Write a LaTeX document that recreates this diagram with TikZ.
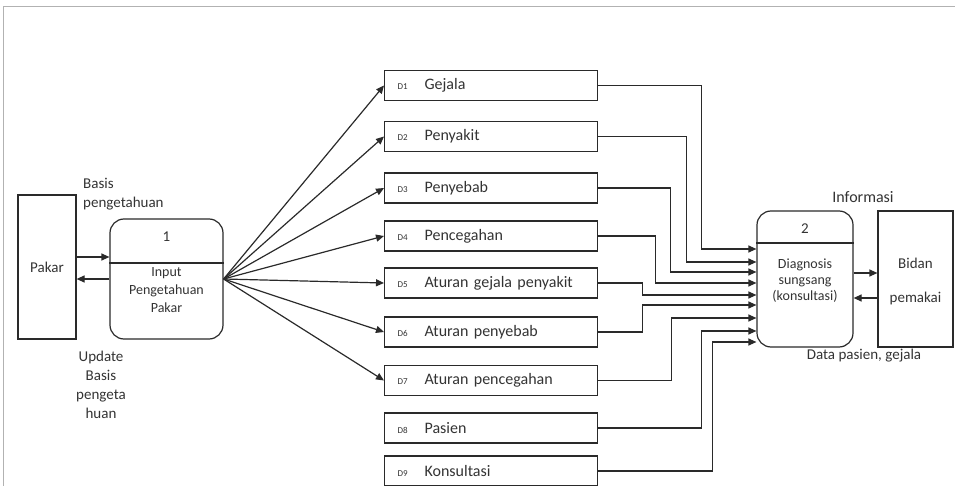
\documentclass[tikz,border=0pt]{standalone}
\usepackage{fontspec}
\setmainfont{Carlito}
\usepackage{xcolor}
\usetikzlibrary{arrows.meta,positioning,calc}
\definecolor{ink}{HTML}{333333}
\definecolor{edge}{HTML}{2A2A2A}
\newcommand{\dnum}[1]{\makebox[27pt][l]{\fontsize{9}{9}\selectfont #1}}

\begin{document}
\begin{tikzpicture}[x=1pt, y=-1pt,
  store/.style={draw=edge, line width=1.2pt, minimum width=213pt, minimum height=30pt, inner xsep=13pt, text width=187pt, anchor=west, align=left, text=ink, font=\fontsize{16}{18}\selectfont},
  proc/.style={draw=edge, line width=1.2pt, rounded corners=14pt},
  ent/.style={draw=edge, line width=1.2pt},
  arr/.style={-{Triangle[length=8pt, width=7pt]}, line width=1.2pt, edge},
  lbl/.style={inner sep=0pt, align=center, text=ink, font=\fontsize{15}{19}\selectfont}
]
  \useasboundingbox (0,0) rectangle (955,486);
  \draw[gray!60, line width=1pt] (3,486) -- (3,7) -- (955,7);

  \node[ent, minimum width=58pt, minimum height=144pt] (pakar) at (47,267) {};
  \node[lbl] (pakartxt) at (pakar.center) {Pakar};

  \node[proc, minimum width=113pt, minimum height=120pt] (p1) at (166.5,279) {};
  \draw[edge, line width=1.2pt] ([yshift=16pt]p1.west) -- ([yshift=16pt]p1.east);
  \node[lbl] (p1num) at (166.5,237) {1};
  \node[lbl, font=\fontsize{14}{18}\selectfont] (p1txt) at (166.5,290) {Input\\Pengetahuan\\Pakar};

  \node[store] (d1) at (384,85.5)  {\dnum{D1}Gejala};
  \node[store] (d2) at (384,136.5) {\dnum{D2}Penyakit};
  \node[store] (d3) at (384,188)   {\dnum{D3}Penyebab};
  \node[store] (d4) at (384,236)   {\dnum{D4}Pencegahan};
  \node[store] (d5) at (384,283)   {\dnum{D5}Aturan gejala penyakit};
  \node[store] (d6) at (384,332)   {\dnum{D6}Aturan penyebab};
  \node[store] (d7) at (384,380.5) {\dnum{D7}Aturan pencegahan};
  \node[store] (d8) at (384,428)   {\dnum{D8}Pasien};
  \node[store] (d9) at (384,471)   {\dnum{D9}Konsultasi};

  \node[proc, minimum width=96pt, minimum height=136pt] (p2) at (805,279) {};
  \draw[edge, line width=1.2pt] ([yshift=36pt]p2.west) -- ([yshift=36pt]p2.east);
  \node[lbl] (p2num) at (805,229) {2};
  \node[lbl, font=\fontsize{14}{16}\selectfont] (p2txt) at (805,280.5) {Diagnosis\\sungsang\\(konsultasi)};

  \node[ent, minimum width=75pt, minimum height=136pt] (bidan) at (915.5,279) {};
  \node[lbl, font=\fontsize{15}{34}\selectfont] (bidantxt) at (915.5,282) {Bidan\\pemakai};

  \node[lbl, align=left, anchor=west] (basis) at (83,194.5) {Basis\\pengetahuan};
  \node[lbl] (update) at (101,385) {Update\\Basis\\pengeta\\huan};
  \node[lbl, font=\fontsize{16}{18}\selectfont] (info) at (863,197) {Informasi};
  \node[lbl] (datapas) at (864,356) {Data pasien, gejala};

  \coordinate (pk1) at ([yshift=10pt]pakar.east);
  \coordinate (pk2) at ([yshift=-12pt]pakar.east);
  \draw[arr] (pk1) -- (pk1 -| p1.west);
  \draw[arr] (pk2 -| p1.west) -- (pk2);

  \draw[arr] (p1.east) -- (d1.west);
  \draw[arr] (p1.east) -- (d2.west);
  \draw[arr] (p1.east) -- (d3.west);
  \draw[arr] (p1.east) -- (d4.west);
  \draw[arr] (p1.east) -- (d5.west);
  \draw[arr] (p1.east) -- (d6.west);
  \draw[arr] (p1.east) -- (d7.west);

  \draw[arr] (d1.east) -- ++(103,0) |- ([yshift=30pt]p2.west);
  \draw[arr] (d2.east) -- ++(88,0)  |- ([yshift=17pt]p2.west);
  \draw[arr] (d3.east) -- ++(72,0)  |- ([yshift=7pt]p2.west);
  \draw[arr] (d4.east) -- ++(57,0)  |- ([yshift=-4pt]p2.west);
  \draw[arr] (d5.east) -- ++(44,0)  |- ([yshift=-16pt]p2.west);
  \draw[arr] (d6.east) -- ++(44,0)  |- ([yshift=-26pt]p2.west);
  \draw[arr] (d7.east) -- ++(73,0)  |- ([yshift=-39pt]p2.west);
  \draw[arr] (d8.east) -- ++(103,0) |- ([yshift=-52pt]p2.west);
  \draw[arr] (d9.east) -- ++(114,0) |- ([yshift=-63pt]p2.west);

  \coordinate (bd1) at ([yshift=6pt]p2.east);
  \coordinate (bd2) at ([yshift=-19pt]p2.east);
  \draw[arr] (bd1) -- (bd1 -| bidan.west);
  \draw[arr] (bd2 -| bidan.west) -- (bd2);
\end{tikzpicture}
\end{document}
